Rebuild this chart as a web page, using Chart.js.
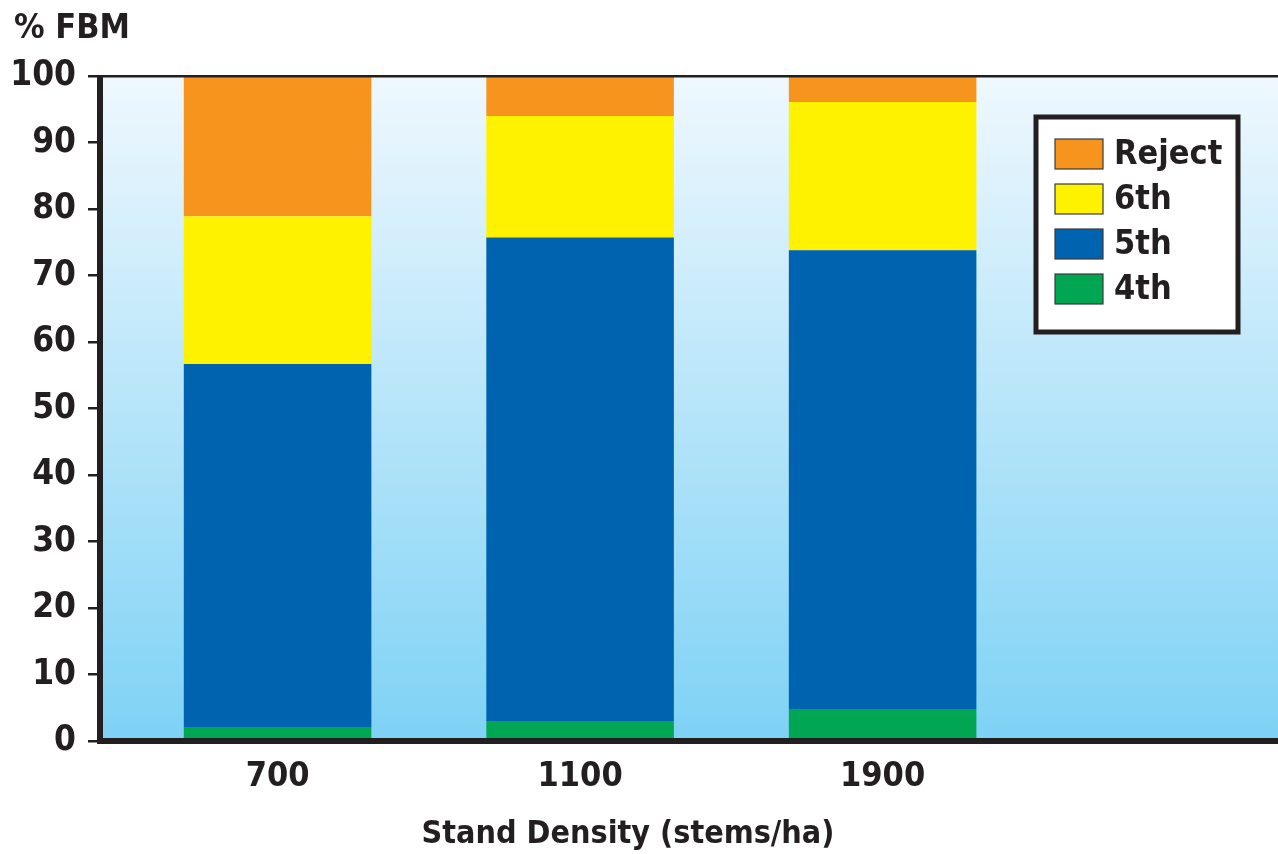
<!DOCTYPE html>
<html>
<head>
<meta charset="utf-8">
<title>% FBM by Stand Density</title>
<script src="https://cdn.jsdelivr.net/npm/chart.js@4.4.1/dist/chart.umd.min.js"></script>
<style>
  html, body { margin: 0; padding: 0; background: #ffffff; }
  #wrap { width: 1278px; height: 854px; position: relative; }
</style>
</head>
<body>
<div id="wrap"><canvas id="chart" width="1278" height="854"></canvas></div>
<script>
// Stand densities (stems/ha) shown on the x axis
const densities = ['700', '1100', '1900'];

// Share of FBM (%) by lumber grade for each density
const grade4th   = [2.0, 3.0, 4.8];
const grade5th   = [54.7, 72.7, 69.0];
const grade6th   = [22.2, 18.3, 22.3];
const gradeReject = [21.1, 6.0, 3.9];

const seriesNames  = ['4th', '5th', '6th', 'Reject'];
const seriesColors = ['#00a651', '#0063b0', '#fff200', '#f7941d'];

const yAxisTitle = '% FBM';
const xAxisTitle = 'Stand Density (stems/ha)';

const FONT = "'Liberation Sans Narrow', 'DejaVu Sans Condensed', 'Arial Narrow', sans-serif";
const INK = '#231f20';

// position of each density along the linear x axis
const slots = densities.map((d, i) => i + 1);
const toPoints = vals => vals.map((v, i) => ({ x: slots[i], y: v }));

const seriesValues = [grade4th, grade5th, grade6th, gradeReject];
const datasets = seriesNames.map((name, i) => ({
  label: name,
  data: toPoints(seriesValues[i]),
  backgroundColor: seriesColors[i],
  borderWidth: 0,
  barPercentage: 1,
  categoryPercentage: 0.62
}));

// Background gradient, frame lines, axis/y titles and the boxed legend
const framePlugin = {
  id: 'frame',
  beforeDatasetsDraw(chart) {
    const { ctx, chartArea: a } = chart;
    const g = ctx.createLinearGradient(0, a.top, 0, a.bottom);
    g.addColorStop(0, '#eff8fe');
    g.addColorStop(1, '#7ed2f5');
    ctx.save();
    ctx.fillStyle = g;
    ctx.fillRect(a.left, a.top, a.right - a.left, a.bottom - a.top);
    ctx.restore();
  },
  afterDatasetsDraw(chart) {
    const { ctx, chartArea: a } = chart;
    ctx.save();
    ctx.fillStyle = INK;
    // top border
    ctx.fillRect(a.left, a.top - 1, a.right - a.left, 2.5);
    // y axis line
    ctx.fillRect(a.left - 3, a.top - 1, 6, a.bottom - a.top + 4);
    // x axis line
    ctx.fillRect(a.left - 3, a.bottom - 3, a.right - a.left + 3, 6);

    // y axis title
    ctx.font = 'bold 34px ' + FONT;
    ctx.textBaseline = 'alphabetic';
    ctx.textAlign = 'left';
    ctx.fillText(yAxisTitle, 14, 38);

    // x axis title
    ctx.font = 'bold 32px ' + FONT;
    ctx.textAlign = 'center';
    ctx.fillText(xAxisTitle, 628, 843);

    // legend box
    const bx = 1036, by = 117, bw = 202, bh = 215;
    ctx.fillStyle = '#ffffff';
    ctx.fillRect(bx, by, bw, bh);
    ctx.lineWidth = 5;
    ctx.strokeStyle = INK;
    ctx.strokeRect(bx, by, bw, bh);

    const order = chart.data.datasets.map((d, i) => i).reverse();
    ctx.font = 'bold 34px ' + FONT;
    ctx.textAlign = 'left';
    ctx.textBaseline = 'middle';
    order.forEach((di, row) => {
      const ds = chart.data.datasets[di];
      const sy = 139 + row * 45;
      ctx.fillStyle = ds.backgroundColor;
      ctx.fillRect(1055, sy, 48, 30);
      ctx.lineWidth = 1.2;
      ctx.strokeStyle = '#3a3a3a';
      ctx.strokeRect(1055, sy, 48, 30);
      ctx.fillStyle = INK;
      ctx.fillText(ds.label, 1114, sy + 16);
    });
    ctx.restore();
  }
};

new Chart(document.getElementById('chart'), {
  type: 'bar',
  data: { datasets },
  plugins: [framePlugin],
  options: {
    responsive: false,
    animation: false,
    layout: { padding: { top: 76, right: 0, left: 0, bottom: 0 } },
    plugins: {
      legend: { display: false },
      tooltip: { enabled: false },
      title: { display: false }
    },
    scales: {
      x: {
        type: 'linear',
        stacked: true,
        offset: false,
        min: 0.413,
        max: 4.307,
        afterBuildTicks(scale) {
          scale.ticks = slots.map(v => ({ value: v }));
        },
        afterFit(scale) { scale.height = 113; },
        ticks: {
          autoSkip: false,
          maxRotation: 0,
          padding: 8,
          color: INK,
          font: { family: FONT, size: 34, weight: 'bold' },
          callback: v => densities[v - 1] ?? ''
        },
        grid: { display: false },
        border: { display: false }
      },
      y: {
        stacked: true,
        min: 0,
        max: 100,
        afterFit(scale) { scale.width = 100; },
        ticks: {
          stepSize: 10,
          padding: 12,
          color: INK,
          font: { family: FONT, size: 35, weight: 'bold' }
        },
        grid: {
          drawOnChartArea: false,
          drawTicks: true,
          tickLength: 12,
          lineWidth: 2.5,
          color: INK
        },
        border: { display: false }
      }
    }
  }
});
</script>
</body>
</html>
